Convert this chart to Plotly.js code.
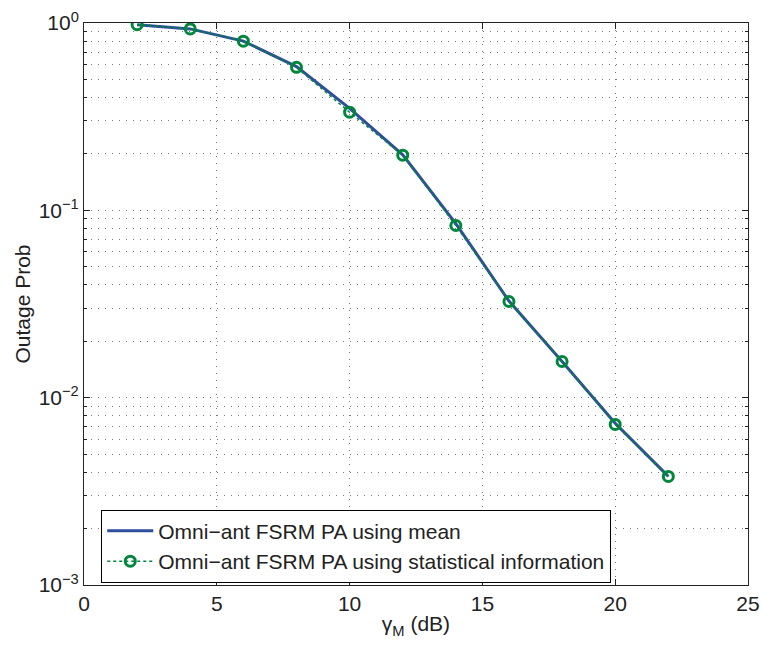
<!DOCTYPE html>
<html>
<head>
<meta charset="utf-8">
<script src="https://cdn.plot.ly/plotly-3.0.1.min.js"></script>
<style>html,body{margin:0;padding:0;background:#fff;}#chart{width:763px;height:649px;}</style>
</head>
<body>
<div id="chart"></div>
<script>
var gammaDb = [2, 4, 6, 8, 10, 12, 14, 16, 18, 20, 22];
var meanProb = [0.98, 0.93, 0.80, 0.585, 0.35, 0.198, 0.085, 0.0328, 0.0156, 0.0073, 0.0038];
var statProb = [0.98, 0.93, 0.80, 0.58, 0.334, 0.197, 0.083, 0.0326, 0.0156, 0.0072, 0.0038];
var seriesNames = ['Omni\u2212ant FSRM PA using mean', 'Omni\u2212ant FSRM PA using statistical information'];
var yTickVals = [1, 0.1, 0.01, 0.001];
var yTickText = ['10<sup>0</sup>', '10<sup>\u22121</sup>', '10<sup>\u22122</sup>', '10<sup>\u22123</sup>'];
var xTickVals = [0, 5, 10, 15, 20, 25];

var font = 'Liberation Sans, Arial, sans-serif';
var gridDash = '1px,6px';
var traces = [
  {x: gammaDb, y: meanProb, name: seriesNames[0], mode: 'lines', type: 'scatter',
   line: {color: '#2e4d9e', width: 3}},
  {x: gammaDb, y: statProb, name: seriesNames[1], mode: 'lines+markers', type: 'scatter',
   line: {color: '#00873c', width: 1.5, dash: 'dot'},
   marker: {symbol: 'circle-open', size: 10, color: '#00873c', line: {width: 3, color: '#00873c'}}}
];
var layout = {
  width: 763, height: 649,
  margin: {l: 84, r: 15, t: 23, b: 64},
  paper_bgcolor: '#fff', plot_bgcolor: '#fff',
  font: {family: font, size: 20, color: '#222'},
  showlegend: true,
  legend: {x: 0.026, y: 0.134, xanchor: 'left', yanchor: 'top',
           bgcolor: '#fff', bordercolor: '#000', borderwidth: 1, itemwidth: 46,
           font: {family: font, size: 21, color: '#222'}, tracegroupgap: 0},
  xaxis: {
    range: [0, 25], tickmode: 'array', tickvals: xTickVals,
    showline: true, linecolor: '#222', linewidth: 1, mirror: 'ticks',
    ticks: 'inside', ticklen: 6, tickcolor: '#222',
    tickfont: {family: font, size: 21, color: '#222'},
    showgrid: true, gridcolor: '#777', griddash: gridDash, gridwidth: 1,
    zeroline: false,
    title: {text: '\u03b3<sub>M</sub> (dB)', font: {family: font, size: 21, color: '#222'}, standoff: 2}
  },
  yaxis: {
    type: 'log', range: [-3, 0], tickmode: 'array', tickvals: yTickVals, ticktext: yTickText,
    showline: true, linecolor: '#222', linewidth: 1, mirror: 'ticks',
    ticks: 'inside', ticklen: 6, tickcolor: '#222',
    tickfont: {family: font, size: 21, color: '#222'},
    showgrid: true, gridcolor: '#777', griddash: gridDash, gridwidth: 1,
    zeroline: false,
    minor: {dtick: 'D1', ticks: 'inside', ticklen: 3, tickcolor: '#222',
            showgrid: true, gridcolor: '#777', griddash: gridDash, gridwidth: 1},
    title: {text: 'Outage Prob', font: {family: font, size: 21, color: '#222'}, standoff: 2}
  }
};
Plotly.newPlot('chart', traces, layout, {displayModeBar: false, staticPlot: true});
</script>
</body>
</html>
